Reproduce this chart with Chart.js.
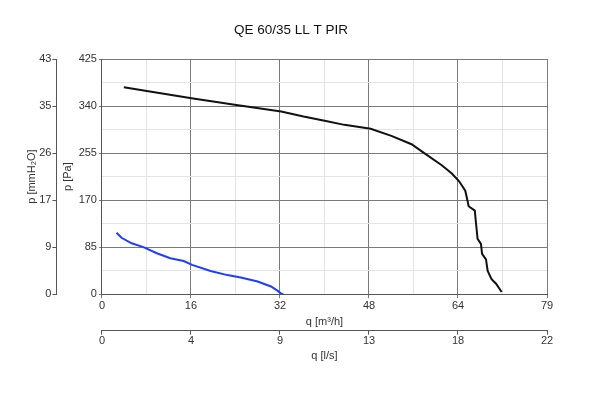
<!DOCTYPE html>
<html>
<head>
<meta charset="utf-8">
<script src="https://cdn.jsdelivr.net/npm/chart.js@4"></script>
<style>
  html, body { margin: 0; padding: 0; background: #fff; }
  #wrap { width: 609px; height: 399px; }
</style>
</head>
<body>
<div id="wrap"><canvas id="fanChart"></canvas></div>
<script>
const chartTitle = 'QE 60/35 LL T PIR';

// curve 1 (black) - q in m3/h, p in Pa
const qBlack = [3.9, 8, 16, 24, 32, 36, 40, 43.3, 48, 51.7, 55.3, 57.7, 60.7, 62.5, 63.8, 64.9, 65.3, 65.5, 66.6, 66.8, 67.1, 67.7, 67.9, 68.6, 68.9, 69.6, 70.4, 71.4];
const pBlack = [374, 367, 354, 342, 330, 321, 313, 306, 299, 286, 271, 254, 233, 218, 204, 187, 169, 159, 151, 130, 100, 91, 73, 63, 42, 27, 19, 4];

// curve 2 (blue)
const qBlue = [2.6, 3.5, 5.3, 7.4, 9.8, 12.2, 14.6, 16.1, 19.4, 22.4, 24.8, 27.8, 30.2, 31.4, 32.0, 32.4];
const pBlue = [111, 102, 92, 85, 74, 65, 60, 53, 42, 34.5, 30, 23, 14, 6, 1, 0];

// axis ranges + tick labels
const qMax = 79.5;          // m3/h
const lsMax = 22.08;        // l/s
const paMax = 425;          // Pa
const mmMax = 43.3;         // mmH2O
const qLabels = ['0', '16', '32', '48', '64', '79'];
const lsLabels = ['0', '4', '9', '13', '18', '22'];
const paLabels = ['0', '85', '170', '255', '340', '425'];
const mmLabels = ['0', '9', '17', '26', '35', '43'];

const toPoints = (xs, ys) => xs.map((x, i) => ({ x: x, y: ys[i] }));

const fam = 'Liberation Sans, Arial, sans-serif';
const tickFont = { family: fam, size: 11 };
const txt = '#333';
const majorGrid = '#7a7a7a';
const minorGrid = '#e4e4e4';

// 11 ticks (major + minor in between) for chart-area axes
function halfTicks(max) {
  return function (axis) {
    axis.ticks = [];
    for (let i = 0; i <= 10; i++) axis.ticks.push({ value: max * i / 10 });
  };
}
function fiveTicks(max) {
  return function (axis) {
    axis.ticks = [];
    for (let i = 0; i <= 5; i++) axis.ticks.push({ value: max * i / 5 });
  };
}

// title is not centred on the canvas in the original, so draw it by hand
const titlePlugin = {
  id: 'titleText',
  afterDraw(chart) {
    const c = chart.ctx;
    c.save();
    c.font = '13.5px ' + fam;
    c.fillStyle = '#111';
    c.textAlign = 'center';
    c.textBaseline = 'middle';
    c.fillText(chartTitle, 291, 30);
    c.restore();
  }
};

const ctx = document.getElementById('fanChart').getContext('2d');

const myChart = new Chart(ctx, {
  type: 'line',
  data: {
    datasets: [
      {
        label: 'black',
        data: toPoints(qBlack, pBlack),
        borderColor: '#111',
        borderWidth: 2,
        pointRadius: 0,
        fill: false,
        xAxisID: 'x',
        yAxisID: 'y'
      },
      {
        label: 'blue',
        data: toPoints(qBlue, pBlue),
        borderColor: '#1f3dff',
        borderWidth: 2,
        pointRadius: 0,
        fill: false,
        xAxisID: 'x',
        yAxisID: 'y'
      }
    ]
  },
  plugins: [titlePlugin],
  options: {
    responsive: true,
    maintainAspectRatio: false,
    animation: false,
    layout: { padding: { left: 25, right: 62, top: 59, bottom: 36 } },
    plugins: {
      legend: { display: false },
      tooltip: { enabled: false },
      title: { display: false }
    },
    scales: {
      x: {
        type: 'linear',
        position: 'bottom',
        min: 0,
        max: qMax,
        weight: 0,
        afterBuildTicks: halfTicks(qMax),
        ticks: {
          color: txt,
          font: tickFont,
          maxRotation: 0,
          autoSkip: false,
          padding: 1,
          callback: (v, i) => (i % 2 === 0 ? qLabels[i / 2] : '')
        },
        grid: {
          color: (c) => (c.index % 2 === 0 ? majorGrid : minorGrid),
          tickColor: (c) => (c.index % 2 === 0 ? majorGrid : 'rgba(0,0,0,0)'),
          tickLength: 4
        },
        border: { color: '#555' },
        title: { display: true, text: 'q [m³/h]', color: txt, font: tickFont, padding: { top: 2, bottom: 2 } }
      },
      x2: {
        type: 'linear',
        position: 'bottom',
        min: 0,
        max: lsMax,
        weight: 1,
        afterBuildTicks: fiveTicks(lsMax),
        ticks: {
          color: txt,
          font: tickFont,
          maxRotation: 0,
          autoSkip: false,
          padding: 0,
          callback: (v, i) => lsLabels[i]
        },
        grid: { drawOnChartArea: false, color: '#555', tickLength: 4 },
        border: { color: '#555' },
        title: { display: true, text: 'q [l/s]', color: txt, font: tickFont, padding: { top: 2, bottom: 0 } }
      },
      y: {
        type: 'linear',
        position: 'left',
        min: 0,
        max: paMax,
        weight: 0,
        afterBuildTicks: halfTicks(paMax),
        ticks: {
          color: txt,
          font: tickFont,
          autoSkip: false,
          padding: 2,
          callback: (v, i) => (i % 2 === 0 ? paLabels[i / 2] : '')
        },
        grid: {
          color: (c) => (c.index % 2 === 0 ? majorGrid : minorGrid),
          tickColor: (c) => (c.index % 2 === 0 ? majorGrid : 'rgba(0,0,0,0)'),
          tickLength: 3
        },
        border: { color: '#555' },
        title: { display: true, text: 'p [Pa]', color: txt, font: tickFont, padding: { top: 5, bottom: 2 } }
      },
      y2: {
        type: 'linear',
        position: 'left',
        min: 0,
        max: mmMax,
        weight: 1,
        afterBuildTicks: fiveTicks(mmMax),
        ticks: {
          color: txt,
          font: tickFont,
          autoSkip: false,
          padding: 1,
          callback: (v, i) => mmLabels[i]
        },
        grid: { drawOnChartArea: false, color: '#555', tickLength: 4 },
        border: { color: '#555' },
        title: { display: true, text: 'p [mmH₂O]', color: txt, font: tickFont, padding: { top: 0, bottom: 0 } }
      }
    }
  }
});
</script>
</body>
</html>
